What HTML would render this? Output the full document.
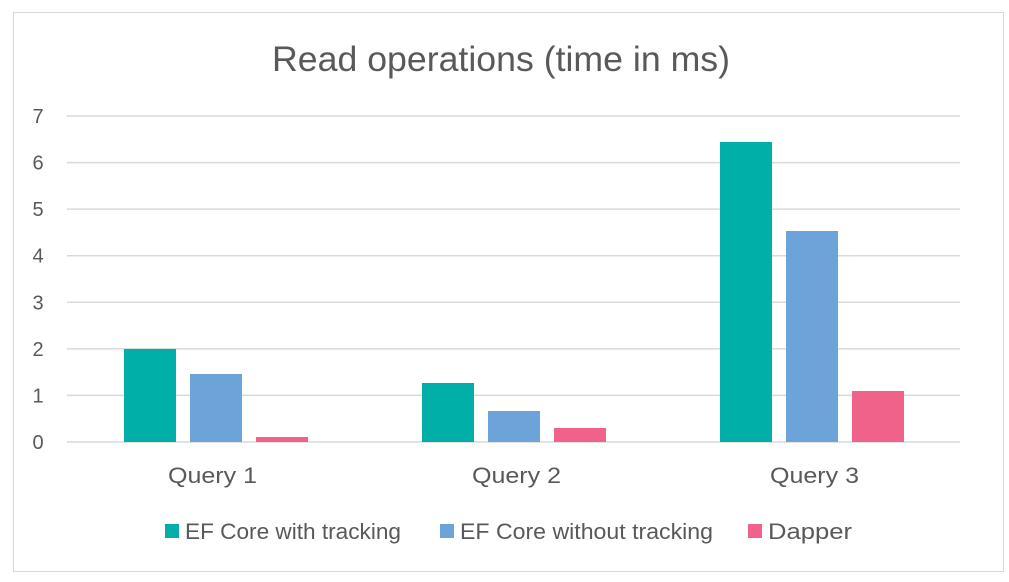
<!DOCTYPE html>
<html><head><meta charset="utf-8"><style>
html,body{margin:0;padding:0;background:#fff;}
svg{display:block;font-family:"Liberation Sans",sans-serif;}
</style></head><body>
<svg width="1009" height="582" xmlns="http://www.w3.org/2000/svg">
<rect x="0" y="0" width="1009" height="582" fill="#fff"/>
<rect x="13.5" y="12.5" width="990" height="559" fill="none" stroke="#d9d9d9" stroke-width="1"/>
<text x="272" y="71" font-size="35" fill="#595959" textLength="458" lengthAdjust="spacingAndGlyphs">Read operations (time in ms)</text>
<g stroke="#d9d9d9" stroke-width="1.5">
<line x1="67" x2="960" y1="116" y2="116"/>
<line x1="67" x2="960" y1="162.6" y2="162.6"/>
<line x1="67" x2="960" y1="209.1" y2="209.1"/>
<line x1="67" x2="960" y1="255.7" y2="255.7"/>
<line x1="67" x2="960" y1="302.3" y2="302.3"/>
<line x1="67" x2="960" y1="348.9" y2="348.9"/>
<line x1="67" x2="960" y1="395.4" y2="395.4"/>
<line x1="67" x2="960" y1="442" y2="442"/>
</g>
<g font-size="20" fill="#595959" text-anchor="middle">
<text x="38" y="123">7</text>
<text x="38" y="169.6">6</text>
<text x="38" y="216.1">5</text>
<text x="38" y="262.7">4</text>
<text x="38" y="309.3">3</text>
<text x="38" y="355.9">2</text>
<text x="38" y="402.4">1</text>
<text x="38" y="449">0</text>
</g>
<g fill="#00B0A8">
<rect x="124" y="349" width="52" height="93"/>
<rect x="422" y="383" width="52" height="59"/>
<rect x="720" y="142" width="52" height="300"/>
</g>
<g fill="#6CA4D9">
<rect x="190" y="374" width="52" height="68"/>
<rect x="488" y="411" width="52" height="31"/>
<rect x="786" y="231" width="52" height="211"/>
</g>
<g fill="#F0628A">
<rect x="256" y="437" width="52" height="5"/>
<rect x="554" y="428" width="52" height="14"/>
<rect x="852" y="391" width="52" height="51"/>
</g>
<g font-size="22" fill="#595959">
<text x="168" y="483" textLength="89" lengthAdjust="spacingAndGlyphs">Query 1</text>
<text x="472" y="483" textLength="89" lengthAdjust="spacingAndGlyphs">Query 2</text>
<text x="770" y="483" textLength="89" lengthAdjust="spacingAndGlyphs">Query 3</text>
</g>
<g font-size="22" fill="#595959">
<rect x="165" y="524" width="14" height="14" fill="#00B0A8"/>
<text x="185" y="539" textLength="216" lengthAdjust="spacingAndGlyphs">EF Core with tracking</text>
<rect x="440" y="524" width="14" height="14" fill="#6CA4D9"/>
<text x="460" y="539" textLength="253" lengthAdjust="spacingAndGlyphs">EF Core without tracking</text>
<rect x="748" y="524" width="14" height="14" fill="#F0628A"/>
<text x="768" y="539" textLength="84" lengthAdjust="spacingAndGlyphs">Dapper</text>
</g>
</svg>
</body></html>
